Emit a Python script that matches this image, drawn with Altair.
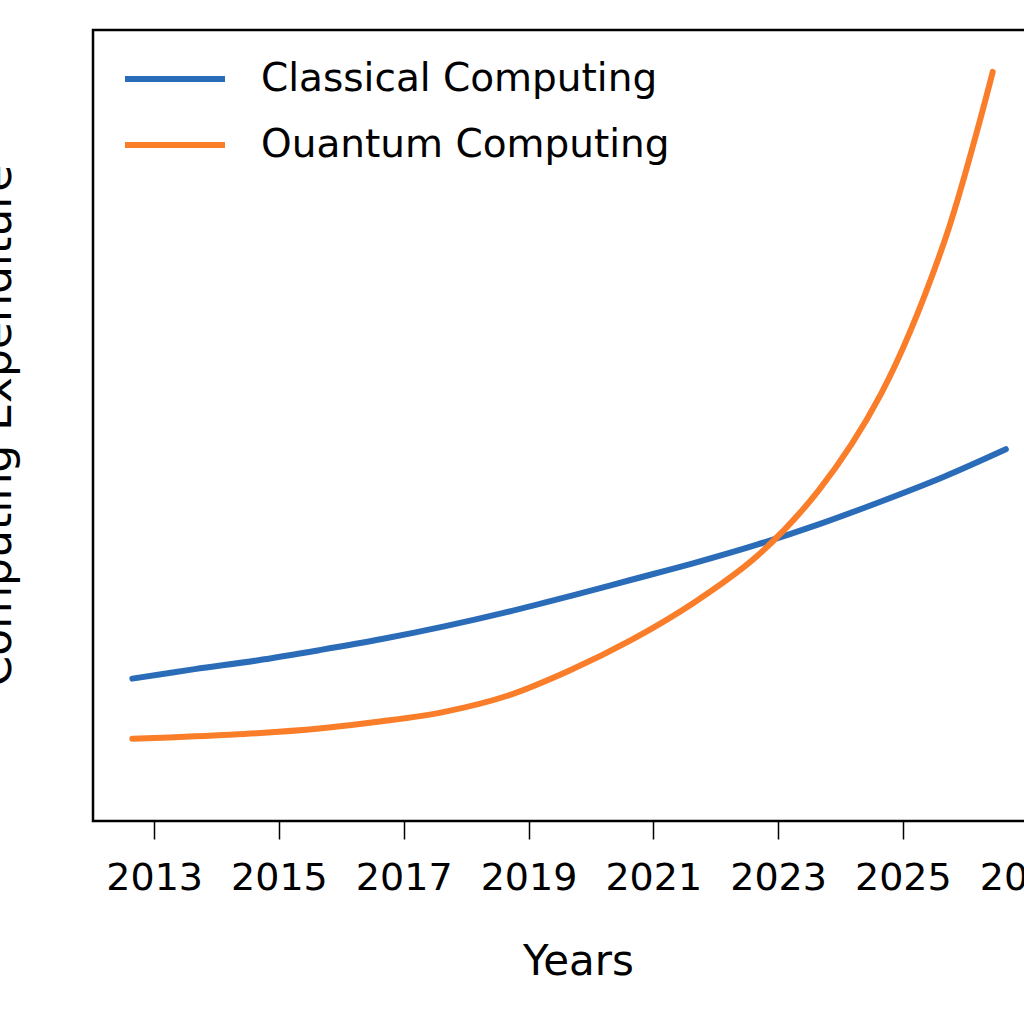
import altair as alt
import pandas as pd

# ---- data ----
years_classical = [2012.65, 2013.65, 2014.65, 2015.65, 2016.65, 2017.65, 2018.65,
                   2019.65, 2020.65, 2021.65, 2022.65, 2023.65, 2024.65, 2025.65, 2026.65]
classical = [18.0, 19.2, 20.3, 21.6, 23.0, 24.6, 26.4, 28.4, 30.5, 32.6, 34.9,
             37.5, 40.4, 43.5, 47.0]

years_quantum = [2012.65, 2013.65, 2014.65, 2015.65, 2016.65, 2017.65, 2018.65,
                 2019.65, 2020.65, 2021.65, 2022.65, 2023.65, 2024.65, 2025.65, 2026.44]
quantum = [10.4, 10.7, 11.1, 11.7, 12.6, 13.8, 15.8, 19.0, 22.9, 27.6, 33.4,
           41.8, 54.0, 72.9, 94.7]

series_names = ["Classical Computing", "Ouantum Computing"]
series_colors = ["#2b6cb8", "#fa7d2a"]
tick_years = [2013, 2015, 2017, 2019, 2021, 2023, 2025, 2027]

FONT = "DejaVu Sans"

rows = []
for i, (yr, v) in enumerate(zip(years_classical, classical)):
    rows.append({"year": yr, "value": v, "series": series_names[0], "order": i})
for i, (yr, v) in enumerate(zip(years_quantum, quantum)):
    rows.append({"year": yr, "value": v, "series": series_names[1], "order": i})
df = pd.DataFrame(rows)

chart = (
    alt.Chart(df)
    .mark_line(strokeWidth=6, strokeCap="round", strokeJoin="round", interpolate="catmull-rom")
    .encode(
        x=alt.X(
            "year:Q",
            scale=alt.Scale(domain=[2012.02, 2027.31], nice=False, zero=False),
            axis=alt.Axis(
                values=tick_years,
                format="d",
                title="Years",
                titleFont=FONT,
                titleFontSize=42,
                titleFontWeight="normal",
                titleColor="black",
                titleBaseline="alphabetic",
                titleX=485,
                titleY=153,
                labelFont=FONT,
                labelFontSize=38,
                labelColor="black",
                labelPadding=20,
                labelFlush=False,
                tickSize=18,
                tickWidth=1.5,
                tickColor="black",
                domain=False,
                grid=False,
            ),
        ),
        y=alt.Y(
            "value:Q",
            scale=alt.Scale(domain=[0, 100], nice=False),
            axis=alt.Axis(
                title="Computing Expenditure",
                titleFont=FONT,
                titleFontSize=44,
                titleFontWeight="normal",
                titleColor="black",
                titleBaseline="alphabetic",
                titleX=-83,
                titleY=395,
                labels=False,
                ticks=False,
                domain=False,
                grid=False,
            ),
        ),
        color=alt.Color(
            "series:N",
            scale=alt.Scale(domain=series_names, range=series_colors),
            legend=alt.Legend(
                title=None,
                orient="none",
                legendX=54,
                legendY=21,
                padding=0,
                symbolType="M-2,0H2",
                symbolSize=2500,
                symbolStrokeWidth=6,
                labelFont=FONT,
                labelFontSize=39,
                labelColor="black",
                labelLimit=0,
                labelOffset=58,
                rowPadding=18,
            ),
        ),
        order="order:Q",
    )
    .properties(
        width=954,
        height=791,
        autosize=alt.AutoSizeParams(type="none"),
        padding={"left": 93, "top": 30, "right": -23, "bottom": 203},
    )
    .configure(background="white")
    .configure_view(stroke="black", strokeWidth=2.5)
)

chart.save("out.html", embed_options={"renderer": "svg", "actions": False})
